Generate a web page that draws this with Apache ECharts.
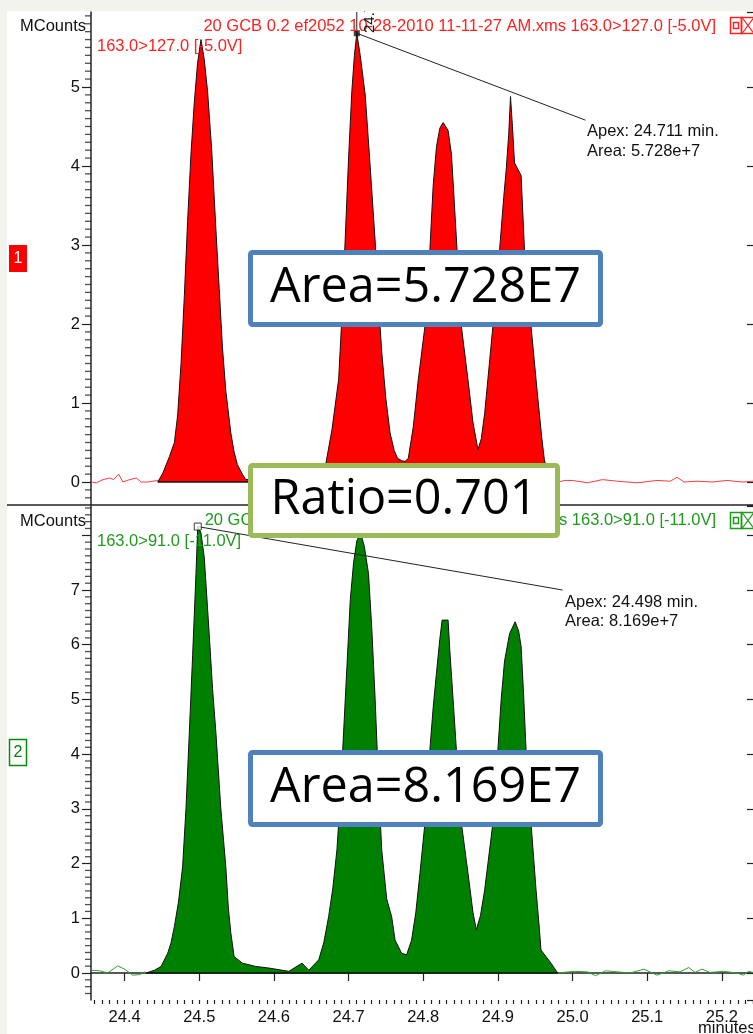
<!DOCTYPE html>
<html><head><meta charset="utf-8">
<script src="https://cdn.jsdelivr.net/npm/echarts@6/dist/echarts.min.js"></script>
<style>
html,body{margin:0;padding:0;background:#f3f3ee;}
#bg{position:absolute;left:7px;top:10px;width:746px;height:1024px;background:#fff;}
#c{position:absolute;left:0;top:0;width:753px;height:1034px;}
</style>
</head><body><div id="bg"></div><div id="c"></div>
<script>
// ---- axis ranges & tick labels ----
const xRange = [24.355, 25.2417];
const yRangeTop = [-0.291, 5.949];
const yRangeBottom = [-0.494, 8.536];
const xTicks = ['24.4', '24.5', '24.6', '24.7', '24.8', '24.9', '25.0', '25.1', '25.2'];
const yTicksTop = ['0', '1', '2', '3', '4', '5'];
const yTicksBottom = ['0', '1', '2', '3', '4', '5', '6', '7'];
// minor tick steps (axis units)
const xMinorStep = 0.01, yTopMinorStep = 0.1, yBottomMinorStep = 0.125;

// ---- trace 1 : 163.0>127.0 (time min, MCounts) ----
const redNoiseLeft = [[24.3556,0.0],[24.3623,-0.01],[24.3711,0.03],[24.38,0.05],[24.3853,0.03],[24.392,0.1],[24.3977,0.0],[24.4067,0.03],[24.4156,0.05],[24.4223,0.0],[24.4311,0.0],[24.4444,0.02]];
const redPeaks = [[24.4444,0],[24.4511,0.11],[24.46,0.32],[24.4667,0.5],[24.4711,0.85],[24.4756,1.5],[24.48,2.35],[24.4844,3.3],[24.4889,4.15],[24.4933,4.8],[24.4977,5.3],[24.5023,5.6],[24.5067,5.35],[24.5111,4.95],[24.5167,4.2],[24.5223,3.2],[24.5267,2.45],[24.5311,1.7],[24.5356,1.15],[24.5423,0.62],[24.5467,0.38],[24.5511,0.22],[24.5577,0.1],[24.5623,0.03],[24.58,0.05],[24.6,0.03],[24.62,0.06],[24.64,0.04],[24.66,0.08],[24.6697,0.24],[24.6777,0.66],[24.6867,1.3],[24.6911,2.1],[24.6956,3.1],[24.7,4.1],[24.7044,4.95],[24.7078,5.4],[24.711,5.68],[24.7156,5.4],[24.7223,4.9],[24.7289,4.0],[24.7356,3.05],[24.74,2.3],[24.7444,1.65],[24.75,1.05],[24.7556,0.62],[24.7611,0.4],[24.7656,0.3],[24.7711,0.27],[24.7756,0.26],[24.78,0.3],[24.7867,0.7],[24.7933,1.29],[24.8023,1.97],[24.8089,2.94],[24.8133,3.75],[24.8178,4.25],[24.8223,4.48],[24.8267,4.55],[24.829,4.54],[24.8333,4.45],[24.8378,4.15],[24.84,3.8],[24.8453,2.94],[24.8511,1.97],[24.86,1.29],[24.8667,0.75],[24.8733,0.41],[24.8778,0.55],[24.8823,0.87],[24.8933,1.97],[24.9023,2.94],[24.9078,3.6],[24.9111,3.95],[24.9145,4.4],[24.9169,4.88],[24.9195,4.5],[24.9223,4.04],[24.9267,3.96],[24.9311,3.88],[24.9356,2.94],[24.9444,1.97],[24.9533,1.08],[24.9589,0.55],[24.9623,0.28],[24.9693,0.03],[24.972,0]];
const redNoiseRight = [[24.972,0],[24.98,0.0],[24.99,0.02],[25.0,0.02],[25.02,-0.01],[25.04,0.03],[25.06,0.01],[25.0867,-0.01],[25.1133,0.02],[25.1307,0.01],[25.14,0.06],[25.1493,0.0],[25.1667,0.01],[25.1867,0.0],[25.2067,0.02],[25.2267,0.0],[25.2417,0.01]];
const redBaseline = [[24.4444,0],[24.972,0]];
const redApex = [24.711, 5.68];
const redLabelAnchor = [25.0173, 4.58];

// ---- trace 2 : 163.0>91.0 ----
const greenNoiseLeft = [[24.3556,0.05],[24.3667,0.04],[24.3773,0.0],[24.3907,0.13],[24.4,0.07],[24.4107,-0.04],[24.42,-0.03],[24.4276,0.02],[24.4289,0.0]];
const greenPeaks = [[24.4289,0.0],[24.44,0.05],[24.4489,0.12],[24.4577,0.36],[24.4622,0.55],[24.4667,0.85],[24.4722,1.3],[24.4777,1.94],[24.4822,3.0],[24.4867,4.39],[24.4911,5.8],[24.4956,7.3],[24.498,8.16],[24.5022,8.05],[24.5067,7.6],[24.5133,6.2],[24.5178,5.2],[24.5223,4.39],[24.5289,3.0],[24.5356,1.94],[24.5389,1.2],[24.5423,0.73],[24.5467,0.3],[24.5577,0.18],[24.5756,0.12],[24.5933,0.09],[24.62,0.03],[24.6377,0.18],[24.6467,0.05],[24.66,0.24],[24.6667,0.55],[24.6733,1.03],[24.6789,1.55],[24.6844,2.25],[24.6889,3.2],[24.6933,4.39],[24.6978,5.6],[24.7023,6.82],[24.7067,7.5],[24.7111,7.9],[24.716,8.05],[24.7211,7.8],[24.7267,7.3],[24.7311,6.3],[24.7356,5.0],[24.74,3.5],[24.7444,2.25],[24.7511,1.35],[24.7577,1.03],[24.7623,0.6],[24.7711,0.36],[24.7777,0.33],[24.7844,0.6],[24.79,1.1],[24.7956,1.82],[24.8023,2.74],[24.8089,4.08],[24.8133,4.85],[24.8177,5.48],[24.8222,6.1],[24.8253,6.45],[24.8333,6.45],[24.8356,5.9],[24.84,5.0],[24.8444,4.08],[24.8511,2.74],[24.86,1.82],[24.8667,1.1],[24.8711,0.79],[24.8767,1.05],[24.8823,1.52],[24.8933,2.74],[24.9,4.08],[24.9044,5.0],[24.9089,5.7],[24.9156,6.2],[24.9231,6.42],[24.9278,6.25],[24.9311,5.97],[24.9344,5.1],[24.9377,4.08],[24.9444,2.74],[24.9511,1.52],[24.9556,0.8],[24.9577,0.42],[24.9644,0.3],[24.9711,0.18],[24.98,0]];
const greenNoiseRight = [[24.98,0],[24.9823,0.0],[25.0023,0.03],[25.02,0.02],[25.0307,-0.05],[25.044,0.04],[25.06,0.02],[25.0773,0.0],[25.0956,0.07],[25.1133,-0.04],[25.1289,0.04],[25.144,0.02],[25.1556,0.1],[25.164,0.01],[25.1733,0.07],[25.184,0.01],[25.2023,0.03],[25.22,0.0],[25.2289,-0.04],[25.2356,0.03],[25.2417,0.01]];
const greenBaseline = [[24.4289,0],[24.98,0]];
const greenApex = [24.498, 8.16];
const greenLabelAnchor = [24.9867, 7.0];

const FONT = '"Liberation Sans", Arial, sans-serif';
const FS = 16.5;
const axisCol = '#222';

// pixel geometry of the two panels
const plotLeft = 91, plotWidth = 665;
const topPanel = {top: 12, height: 493};
const botPanel = {top: 506, height: 494};

function pickLabel(list, digits) {
  return v => {
    const s = digits ? v.toFixed(digits) : String(Math.round(v * 1000) / 1000);
    return list.indexOf(s) >= 0 ? s : '';
  };
}
function leftY(gi, range, ticks, split) {
  return {
    type: 'value', gridIndex: gi, min: range[0], max: range[1], splitNumber: split,
    axisLine: {show: true, lineStyle: {color: axisCol, width: 1.5}},
    axisTick: {show: true, length: 9, lineStyle: {color: axisCol, width: 1.2}},
    axisLabel: {formatter: pickLabel(ticks, 0), showMinLabel: false, showMaxLabel: false, margin: 11, fontSize: FS, fontFamily: FONT, color: '#111'},
    splitLine: {show: false}
  };
}
function rightY(gi, range, split) {
  return {
    type: 'value', gridIndex: gi, position: 'right', min: range[0], max: range[1], splitNumber: split,
    axisLine: {show: false},
    axisTick: {show: true, inside: true, length: 6, lineStyle: {color: axisCol, width: 1.2}},
    axisLabel: {show: false}, splitLine: {show: false}
  };
}
// x minor ticks: tick-only axis on a grid snapped to multiples of the step, same scale
function minorGridX(panel, range, step) {
  const lo = Math.ceil(range[0] / step - 1e-9) * step, hi = Math.floor(range[1] / step + 1e-9) * step;
  const ppu = plotWidth / (range[1] - range[0]);
  const leftPx = plotLeft + (lo - range[0]) * ppu;
  const rightPx = plotLeft + (hi - range[0]) * ppu;
  return {grid: {left: leftPx, top: panel.top, width: rightPx - leftPx, height: panel.height}, lo, hi};
}
const mX = minorGridX(botPanel, xRange, xMinorStep);

// y minor tick positions (axis decoration, placed by the y scale via a scatter of short dashes)
function minorYValues(range, step, perMajor) {
  const out = [];
  const k0 = Math.ceil(range[0] / step - 1e-9), k1 = Math.floor(range[1] / step + 1e-9);
  for (let k = k0; k <= k1; k++) if (k % perMajor !== 0) out.push([xRange[0], Math.round(k * step * 1000) / 1000]);
  return out;
}
function minorTickSeries(xi, yi, vals) {
  return {type: 'scatter', xAxisIndex: xi, yAxisIndex: yi, data: vals, symbol: 'rect',
    symbolSize: [6, 1.3], symbolOffset: [-3, 0], itemStyle: {color: axisCol}, clip: false,
    silent: true, z: 10, animation: false};
}

function lineS(data, xi, yi, color, width, z, extra) {
  return Object.assign({
    type: 'line', data: data, xAxisIndex: xi, yAxisIndex: yi, showSymbol: false, symbol: 'none',
    lineStyle: {color: color, width: width}, z: z, animation: false, silent: true
  }, extra || {});
}

const txt = (t, x, y, fill, size, align, extra) => Object.assign({
  type: 'text', z: 50,
  style: {text: t, x: x, y: y, fill: fill, font: size + 'px ' + FONT, textAlign: align, align: align, textVerticalAlign: 'middle', verticalAlign: 'middle'}
}, extra || {});

const icons = (y, col) => [
  {type: 'rect', z: 50, shape: {x: 730.5, y: y, width: 11, height: 16}, style: {fill: 'none', stroke: col, lineWidth: 1.5}},
  {type: 'rect', z: 50, shape: {x: 733.5, y: y + 5, width: 5, height: 6}, style: {fill: 'none', stroke: col, lineWidth: 1.5}},
  {type: 'rect', z: 50, shape: {x: 741.5, y: y, width: 14, height: 16}, style: {fill: 'none', stroke: col, lineWidth: 1.5}},
  {type: 'line', z: 50, shape: {x1: 742, y1: y, x2: 754, y2: y + 16}, style: {stroke: col, lineWidth: 1.2}},
  {type: 'line', z: 50, shape: {x1: 754, y1: y, x2: 742, y2: y + 16}, style: {stroke: col, lineWidth: 1.2}}
];

const box = (x, y, w, h, col, t, cx, cy) => [
  {type: 'rect', z: 90, shape: {x: x, y: y, width: w, height: h, r: 2}, style: {fill: '#fff', stroke: col, lineWidth: 5}},
  {type: 'text', z: 91, style: {text: t, x: cx, y: cy, fill: '#000', font: '48.5px "Open Sans", "Noto Sans", sans-serif', textAlign: 'center', align: 'center', textVerticalAlign: 'middle', verticalAlign: 'middle'}}
];

const gfx = [
  {type: 'line', z: 40, shape: {x1: 7, y1: 505, x2: 753, y2: 505}, style: {stroke: '#222', lineWidth: 1.5}},
  txt('MCounts', 86, 26, '#111', FS, 'right'),
  txt('MCounts', 86, 521, '#111', FS, 'right'),
  txt('20 GCB 0.2 ef2052 10-28-2010 11-11-27 AM.xms 163.0>127.0 [-5.0V]', 716, 26, '#ff2020', FS, 'right'),
  txt('163.0>127.0 [-5.0V]', 97, 46, '#ff2020', FS, 'left'),
  txt('20 GCB 0.2 ef2052 10-28-2010 11-11-27 AM.xms 163.0>91.0 [-11.0V]', 716, 520, '#1e9a1e', FS, 'right'),
  txt('163.0>91.0 [-11.0V]', 97, 541, '#1e9a1e', FS, 'left'),
  txt('Apex: 24.711 min.', 587, 131, '#111', FS, 'left'),
  txt('Area: 5.728e+7', 587, 151, '#111', FS, 'left'),
  txt('Apex: 24.498 min.', 565, 602, '#111', FS, 'left'),
  txt('Area: 8.169e+7', 565, 621, '#111', FS, 'left'),
  {type: 'text', z: 50, x: 370, y: 33, rotation: Math.PI / 2,
    style: {text: '24.711', x: 0, y: 0, fill: '#111', font: '15px ' + FONT, textAlign: 'left', align: 'left', textVerticalAlign: 'middle', verticalAlign: 'middle'}},
  {type: 'rect', z: 200, shape: {x: 0, y: 0, width: 753, height: 11}, style: {fill: '#f3f3ee'}},
  {type: 'rect', z: 50, shape: {x: 9, y: 245, width: 18, height: 27}, style: {fill: '#ff0000'}},
  txt('1', 18, 259, '#fff', 16, 'center'),
  {type: 'rect', z: 50, shape: {x: 9.5, y: 739.5, width: 17, height: 26}, style: {fill: '#fff', stroke: '#0a8a0a', lineWidth: 1.5}},
  txt('2', 18, 753, '#0a7a0a', 16, 'center'),
  ...icons(17.5, '#ff2020'),
  ...icons(512.5, '#1e9a1e'),
  txt('minutes', 698, 1028, '#111', FS, 'left'),
  ...box(250.5, 252.5, 350, 72, '#4f81bd', 'Area=5.728E7', 425.5, 288.5),
  ...box(250.5, 465.5, 307, 70, '#9bbb59', 'Ratio=0.701', 404, 500.5),
  ...box(250.5, 752.5, 350, 72, '#4f81bd', 'Area=8.169E7', 425.5, 788.5)
];

const chart = echarts.init(document.getElementById('c'), null, {renderer: 'canvas'});
chart.setOption({
  backgroundColor: 'transparent',
  animation: false,
  grid: [
    {left: plotLeft, top: topPanel.top, width: plotWidth, height: topPanel.height},
    {left: plotLeft, top: botPanel.top, width: plotWidth, height: botPanel.height},
    mX.grid
  ],
  xAxis: [
    {type: 'value', gridIndex: 0, min: xRange[0], max: xRange[1], show: false},
    {type: 'value', gridIndex: 1, min: xRange[0], max: xRange[1], splitNumber: 9,
      axisLine: {show: true, lineStyle: {color: axisCol, width: 1.5}},
      axisTick: {show: true, length: 8, lineStyle: {color: axisCol, width: 1.2}},
      axisLabel: {formatter: pickLabel(xTicks, 1), showMinLabel: false, showMaxLabel: false, margin: 9, fontSize: FS, fontFamily: FONT, color: '#111'},
      splitLine: {show: false}},
    {type: 'value', gridIndex: 2, min: mX.lo, max: mX.hi, interval: xMinorStep, position: 'bottom',
      axisLine: {show: false}, axisLabel: {show: false}, splitLine: {show: false},
      axisTick: {show: true, length: 4, lineStyle: {color: axisCol, width: 1.2}}}
  ],
  yAxis: [
    leftY(0, yRangeTop, yTicksTop, 6),
    leftY(1, yRangeBottom, yTicksBottom, 8),
    rightY(0, yRangeTop, 6),
    rightY(1, yRangeBottom, 8),
    {type: 'value', gridIndex: 2, show: false, min: 0, max: 1}
  ],
  series: [
    lineS(redNoiseLeft, 0, 0, '#ff3a3a', 1, 3),
    lineS(redNoiseRight, 0, 0, '#ff3a3a', 1, 3),
    lineS(redPeaks, 0, 0, '#111', 1, 4, {areaStyle: {color: '#ff0000', opacity: 1}}),
    lineS(redBaseline, 0, 0, '#111', 1.5, 5),
    lineS([redApex, redLabelAnchor], 0, 0, '#222', 1, 6),
    lineS([redApex, [redApex[0], yRangeTop[1]]], 0, 0, '#222', 1, 6),
    {type: 'scatter', xAxisIndex: 0, yAxisIndex: 0, data: [redApex], symbol: 'rect', symbolSize: 6,
      itemStyle: {color: '#111'}, z: 7, silent: true},
    lineS(greenNoiseLeft, 1, 1, '#2f9e2f', 1, 3),
    lineS(greenNoiseRight, 1, 1, '#2f9e2f', 1, 3),
    lineS(greenPeaks, 1, 1, '#111', 1, 4, {areaStyle: {color: '#008000', opacity: 1}}),
    lineS(greenBaseline, 1, 1, '#111', 1.5, 5),
    lineS([greenApex, greenLabelAnchor], 1, 1, '#222', 1, 6),
    {type: 'scatter', xAxisIndex: 1, yAxisIndex: 1, data: [greenApex], symbol: 'rect', symbolSize: 7,
      itemStyle: {color: '#fff', borderColor: '#111', borderWidth: 1}, z: 7, silent: true},
    minorTickSeries(0, 0, minorYValues(yRangeTop, yTopMinorStep, 10)),
    minorTickSeries(1, 1, minorYValues(yRangeBottom, yBottomMinorStep, 8))
  ],
  graphic: gfx
});
</script>
</body></html>
